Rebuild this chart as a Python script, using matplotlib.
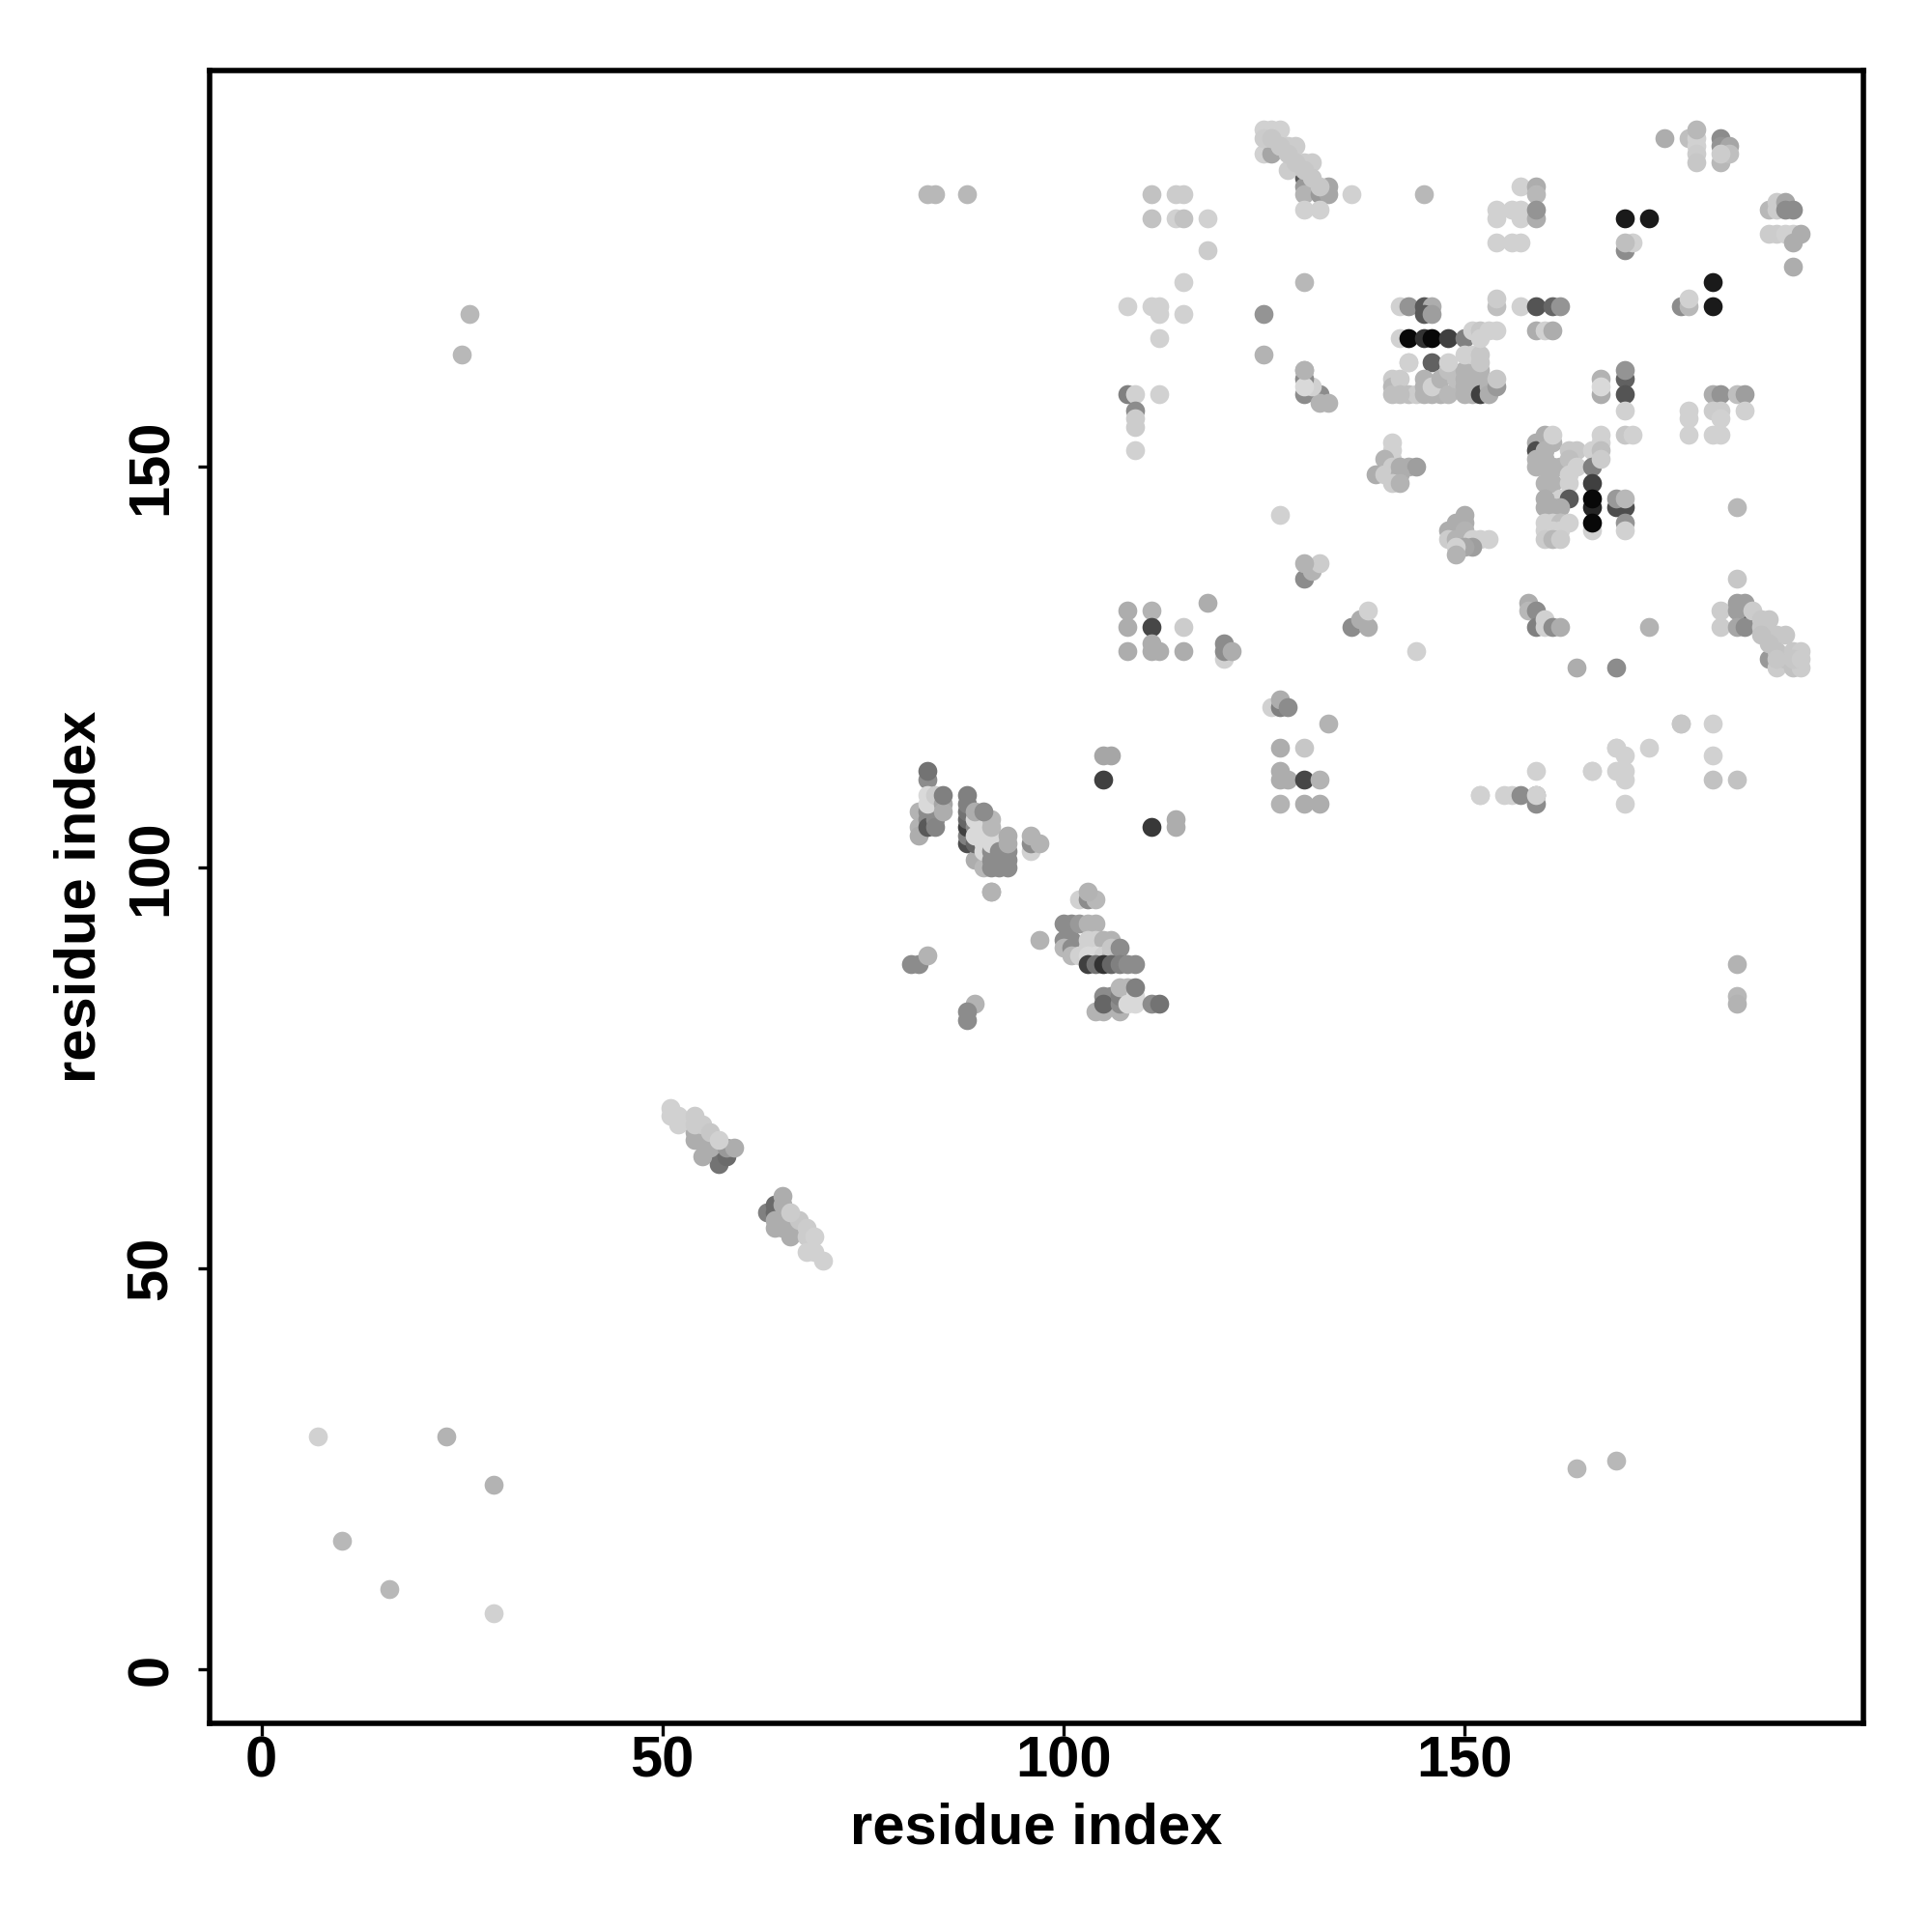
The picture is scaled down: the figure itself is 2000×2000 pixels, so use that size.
import matplotlib
matplotlib.use("Agg")
import matplotlib.pyplot as plt

plt.rcParams['font.family'] = ['Liberation Sans', 'DejaVu Sans']

# residue i, residue j, grey shade per contact, one triple of lists per region
sparse_x = [7,23,29,10,16,29,25,26,164,169,184,184,184,83,84,88,136,145,97,91,127,152,177,181,184,144]
sparse_y = [29,29,23,16,10,7,164,169,25,26,88,84,83,184,184,184,184,184,91,97,144,109,118,118,136,127]
sparse_g = [.82,.7,.7,.72,.72,.82,.72,.72,.72,.72,.7,.72,.7,.72,.72,.72,.82,.72,.7,.7,.82,.82,.78,.82,.78,.82]

s1_x = [57,57,58,54,54,55,55,56,58,59,51,51,52,52,54,54,55,56,57]
s1_y = [64,63,64,67,66,66,64,65,65,65,70,69,69,68,69,68,68,67,66]
s1_g = [.42,.45,.42,.68,.68,.68,.68,.68,.6,.68,.82,.82,.82,.82,.8,.8,.8,.78,.82]

s2_x = [63,64,64,64,64,65,65,65,66,67,65,66,67,68,68,69,69,68,70]
s2_y = [57,58,57,56,55,56,55,58,56,55,59,54,56,55,54,54,52,52,51]
s2_g = [.5,.42,.42,.68,.68,.68,.68,.68,.68,.68,.68,.68,.78,.8,.8,.82,.82,.82,.82]
s2b_x = [66]
s2b_y = [57]
s2b_g = [.8]

left_x = [83,83,82,82,82,83,83,83,84,84,84,83,83,84,85,85,85,81,82,83,89,88,88]
left_y = [111,112,107,105,104,107,106,105,107,106,105,109,108,109,108,107,109,88,88,89,83,82,81]
left_g = [.55,.45,.7,.7,.68,.55,.55,.35,.55,.55,.52,.85,.85,.8,.65,.68,.5,.55,.55,.7,.7,.55,.55]

col_x = [88,88,88,88,88,88,88,89,89,89,89,89,90,90,90,90,90,90,91,91,91,91,91,91,91,92,92,92,93,93,93,93,93,96,96,96,97]
col_y = [103,104,105,106,107,108,109,101,103,105,104,106,100,102,103,104,105,106,100,101,102,103,104,105,106,100,101,102,100,101,102,103,104,102,103,104,103]
col_g = [.3,.5,.25,.4,.45,.5,.5,.68,.4,.55,.85,.85,.72,.85,.85,.85,.85,.85,.55,.55,.55,.85,.85,.72,.72,.55,.55,.55,.55,.55,.55,.68,.68,.82,.55,.7,.7]
col2_x = [89,90,91,114,114,111,105,105,106]
col2_y = [107,107,97,106,105,105,111,114,114]
col2_g = [.68,.55,.7,.68,.68,.22,.25,.65,.65]

low_x = [102,103,104,103,100,101,100,101,100,101,101,102,103,104,103,104,103,104,105,106,102,103,104,105,106,106,107,103,104,105,106,107,108,109]
low_y = [96,96,96,97,93,93,91,91,90,90,89,93,93,93,91,91,90,90,91,91,89,89,89,89,89,90,90,88,88,88,88,88,88,88]
low_g = [.82,.55,.72,.7,.55,.55,.55,.55,.72,.55,.72,.6,.7,.7,.82,.82,.82,.82,.7,.7,.82,.85,.85,.82,.75,.78,.55,.25,.45,.2,.4,.5,.55,.55]

low2_x = [104,105,107,105,106,105,107,107,107,108,108,109,109,109,111,112]
low2_y = [82,82,82,84,84,83,83,84,85,85,83,84,83,85,83,83]
low2_g = [.7,.7,.7,.55,.55,.4,.55,.5,.72,.72,.85,.85,.85,.5,.55,.45]

mid_x = [108,111,118,108,111,115,111,108,111,112,115,120,120,120,121,127,127,127,128,130,127,130,132,126,127,127,128,133,130,131,132,130,136,137,138,138]
mid_y = [132,132,133,130,130,130,128,127,127,127,127,126,128,127,127,115,112,111,111,115,108,108,108,120,120,121,120,118,136,137,138,138,130,131,130,132]
mid_g = [.68,.7,.68,.68,.28,.8,.68,.68,.68,.68,.68,.82,.55,.55,.68,.68,.68,.68,.68,.78,.7,.68,.68,.82,.5,.68,.55,.7,.55,.7,.8,.7,.55,.68,.68,.82]
mid2_x = [130,132]
mid2_y = [111,111]
mid2_g = [.28,.7]

top_x = [111,114,115,111,114,115,118,118,115,108,111,112,112,115,112,108,109,112,109,109,109,109,125,125,130,130,132,133,132,131]
top_y = [184,184,184,181,181,181,181,177,173,170,170,170,169,169,166,159,159,159,157,156,155,152,169,164,162,159,159,158,158,160]
top_g = [.76,.8,.8,.76,.82,.76,.82,.8,.82,.82,.82,.82,.82,.82,.82,.5,.82,.82,.55,.8,.8,.82,.58,.7,.7,.55,.55,.7,.7,.82]
top2_x = [130,130,130,130]
top2_y = [173,161,160,162]
top2_g = [.72,.55,.85,.7]

diag_x = [125,126,130,130,130,132,133,133,130,132,125,126,127,125,126,127,128,129,128,130,131,126,127,128,129,130,131,132]
diag_y = [189,189,186,185,184,184,184,185,182,182,192,192,192,191,191,190,190,190,187,188,188,191,190,189,188,187,186,185]
diag_g = [.82,.65,.35,.6,.7,.6,.65,.65,.82,.82,.82,.82,.82,.8,.8,.8,.8,.8,.8,.8,.8,.78,.78,.78,.78,.78,.78,.78]

top3_x = [142,143,145,146,145,146,142,143,145,146,148,150,146]
top3_y = [170,170,170,170,169,169,166,166,166,166,166,166,163]
top3_g = [.82,.58,.35,.68,.35,.62,.82,.03,.2,.03,.25,.5,.38]

sheet_x = [141,141,141,142,143,144,145,146,147,142,143,145,145,146,147,148,148,149,150,150,150,150,151,151,151,152,152,152,152,153,153,154,154,143,148,150,151,152,152,151,152,153,154,152]
sheet_y = [161,160,159,161,159,159,159,159,159,159,163,161,160,160,161,159,162,161,162,161,160,159,161,160,159,162,161,160,159,160,159,160,161,163,163,164,164,164,163,167,167,167,167,166]
sheet_g = [.8,.72,.75,.8,.75,.8,.7,.7,.7,.75,.82,.7,.7,.82,.7,.72,.75,.75,.7,.7,.7,.7,.7,.7,.7,.7,.7,.7,.25,.7,.68,.6,.78,.82,.82,.82,.82,.78,.78,.82,.78,.82,.82,.82]

ur_x = [157,159,159,154,154,156,157,157,159,159,154,156,157,170,173,170,171,170,175,178,179,179,179,179,179,182,182,183,182,183,182,188,189,189,190,190,191,188,189,190,191,192,191,191,181,181,177,178,178,154,154,157,159,161,162,159,160,161,167,167,167,170,170,170,170,170,171]
ur_y = [185,185,184,182,181,182,182,181,181,182,178,178,178,181,181,177,178,178,191,191,191,190,189,188,192,191,190,190,188,189,189,182,183,182,183,182,182,179,179,179,179,179,178,175,173,170,170,170,171,170,171,170,170,170,170,167,167,167,161,159,160,161,159,162,157,154,154]
ur_g = [.82,.68,.72,.82,.82,.82,.82,.82,.68,.58,.82,.82,.82,.1,.1,.55,.82,.75,.68,.75,.82,.82,.8,.78,.72,.55,.58,.65,.72,.75,.8,.72,.8,.8,.65,.55,.55,.8,.8,.82,.82,.68,.68,.68,.1,.1,.55,.72,.82,.75,.8,.82,.33,.4,.58,.68,.82,.68,.7,.68,.85,.38,.33,.58,.82,.78,.82]

right_x = [181,182,184,185,178,178,178,181,182,182,185,181,182,184,159,166,169,170,170,181,184,169,173,159,166,169,170,152,155,156,157,159,159,170,177,181]
right_y = [159,159,159,159,157,156,154,157,157,156,157,154,154,145,112,112,112,112,111,111,111,115,115,108,112,115,114,109,109,109,109,109,109,108,118,114]
right_g = [.68,.58,.75,.62,.82,.82,.82,.8,.8,.82,.82,.82,.82,.72,.82,.82,.82,.82,.82,.76,.76,.82,.82,.55,.82,.82,.82,.82,.82,.82,.55,.55,.82,.82,.78,.82]

pair_x = [141,141,141,140,139,140,141,142,143,144,142,141,142,150,149,150,148,149,150,148,149,151,152,153,151,150,149,149]
pair_y = [153,152,151,151,149,149,150,150,150,150,149,148,148,144,143,143,142,142,142,141,141,141,141,141,140,140,140,139]
pair_g = [.82,.82,.82,.7,.68,.8,.8,.68,.68,.62,.68,.8,.7,.68,.68,.68,.68,.68,.7,.8,.7,.82,.82,.82,.62,.65,.82,.7]

core_x = [159,159,159,159,160,161,160,160,160,161,162,160,161,161,163,164,163,164,163,163,162,163,166,166,166,166,166,167,167,167,167,162,160,160,161,162,160,161,162,163,160,161,162,160,161,162,169,170,169,170,170,170]
core_y = [153,152,151,150,154,153,152,151,150,150,150,148,148,154,152,152,151,150,149,148,146,146,142,152,150,148,145,154,153,152,151,145,146,145,145,143,143,143,143,143,142,142,142,141,141,141,145,145,146,146,143,142]
core_g = [.68,.3,.7,.7,.68,.7,.7,.7,.7,.7,.7,.7,.7,.82,.78,.78,.75,.82,.82,.82,.82,.35,.82,.82,.5,.25,.15,.82,.82,.75,.8,.68,.68,.68,.68,.75,.82,.82,.75,.82,.82,.82,.82,.8,.72,.8,.3,.3,.6,.72,.58,.82]
core2_x = [166,166,158,158,159,159,160,160,161,162]
core2_y = [146,143,133,132,132,130,131,130,130,130]
core2_g = [.03,.03,.68,.72,.55,.5,.82,.82,.55,.68]

end_x = [173,164,169,182,182,184,185,184,184,185,188,189,186,187,188,187,189,190,187,188,189,190,191,192,191,189,192,191,192]
end_y = [130,125,125,132,130,133,133,132,130,130,126,125,132,131,131,130,129,129,129,128,127,126,125,125,127,126,127,126,126]
end_g = [.7,.68,.55,.8,.8,.62,.62,.62,.65,.55,.6,.8,.8,.78,.78,.78,.78,.78,.76,.76,.76,.76,.76,.8,.78,.78,.8,.78,.8]
end2_x = [185]
end2_y = [131]
end2_g = [.35]

regions = [
    (sparse_x, sparse_y, sparse_g), (s1_x, s1_y, s1_g), (s2_x, s2_y, s2_g), (s2b_x, s2b_y, s2b_g),
    (left_x, left_y, left_g), (col_x, col_y, col_g), (col2_x, col2_y, col2_g),
    (low_x, low_y, low_g), (low2_x, low2_y, low2_g), (mid_x, mid_y, mid_g), (mid2_x, mid2_y, mid2_g),
    (top_x, top_y, top_g), (top2_x, top2_y, top2_g), (diag_x, diag_y, diag_g),
    (top3_x, top3_y, top3_g), (sheet_x, sheet_y, sheet_g), (ur_x, ur_y, ur_g),
    (right_x, right_y, right_g), (pair_x, pair_y, pair_g), (core_x, core_y, core_g),
    (core2_x, core2_y, core2_g), (end2_x, end2_y, end2_g), (end_x, end_y, end_g),
]

ticks = [0, 50, 100, 150]

fig = plt.figure(figsize=(10, 10), dpi=200)
ax = fig.add_axes([217/2000, 1-1784/2000, (1929-217)/2000, (1784-73)/2000])
z = 1
for xs, ys, gs in regions:
    for x, y, g in zip(xs, ys, gs):
        ax.scatter([x], [y], s=50, color=str(g), linewidths=0, zorder=z)
        z += 1

ax.set_xlim(-6.46, 199.8)
ax.set_ylim(-6.75, 199.4)
ax.set_xticks(ticks)
ax.set_yticks(ticks)
ax.tick_params(length=4.5, width=1.2, pad=0, labelsize=21.5)
ax.tick_params(axis='y', pad=7)
for lab in ax.get_xticklabels() + ax.get_yticklabels():
    lab.set_fontweight('bold')
for lab in ax.get_yticklabels():
    lab.set_rotation(90)
    lab.set_va('center')
for sp in ax.spines.values():
    sp.set_linewidth(2.0)
ax.set_xlabel('residue index', fontsize=21.5, fontweight='bold', labelpad=5)
ax.set_ylabel('residue index', fontsize=21.5, fontweight='bold', labelpad=7)
fig.savefig('out.png', dpi=200, facecolor='white')
